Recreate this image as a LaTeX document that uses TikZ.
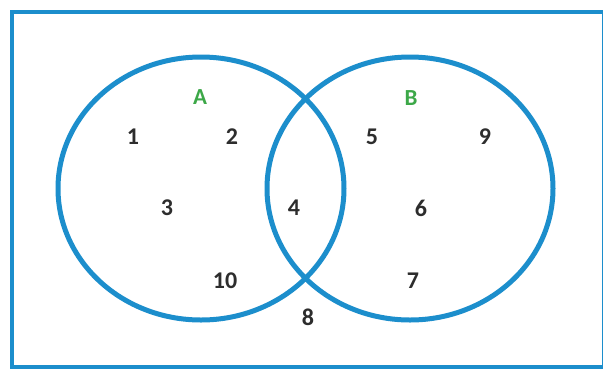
\documentclass[tikz,border=0pt]{standalone}
\usepackage{fontspec}
\setmainfont{Carlito}
\usetikzlibrary{shapes.geometric}
\definecolor{vblue}{RGB}{28,142,204}
\definecolor{vgreen}{RGB}{60,168,72}
\definecolor{vtext}{RGB}{45,45,45}
\begin{document}
\begin{tikzpicture}[x=1pt,y=-1pt,
  setline/.style={draw=vblue,line width=5pt},
  boxline/.style={draw=vblue,line width=4pt},
  num/.style={text=vtext,font=\fontsize{24}{26}\selectfont\bfseries,inner sep=0pt},
  setname/.style={text=vgreen,font=\fontsize{23}{25}\selectfont\bfseries,inner sep=0pt}]
\useasboundingbox (0,0) rectangle (603,368);
\fill[white] (0,0) rectangle (603,368);
\draw[boxline] (12,12) rectangle (604,367);
\node[setline,ellipse,minimum width=286pt,minimum height=263pt,inner sep=0pt] (ca) at (201,188.5) {};
\node[setline,ellipse,minimum width=286pt,minimum height=263pt,inner sep=0pt] (cb) at (410,188.5) {};
\node[setname] (la) at (200,97) {A};
\node[setname] (lb) at (411,98) {B};
\node[num] (n1) at (133,137) {1};
\node[num] (n2) at (232,137) {2};
\node[num] (n5) at (372,137) {5};
\node[num] (n9) at (485,137) {9};
\node[num] (n3) at (167,208) {3};
\node[num] (n4) at (294,208) {4};
\node[num] (n6) at (421,208) {6};
\node[num] (n10) at (225,281) {10};
\node[num] (n7) at (413,281) {7};
\node[num] (n8) at (308,317) {8};
\end{tikzpicture}
\end{document}
